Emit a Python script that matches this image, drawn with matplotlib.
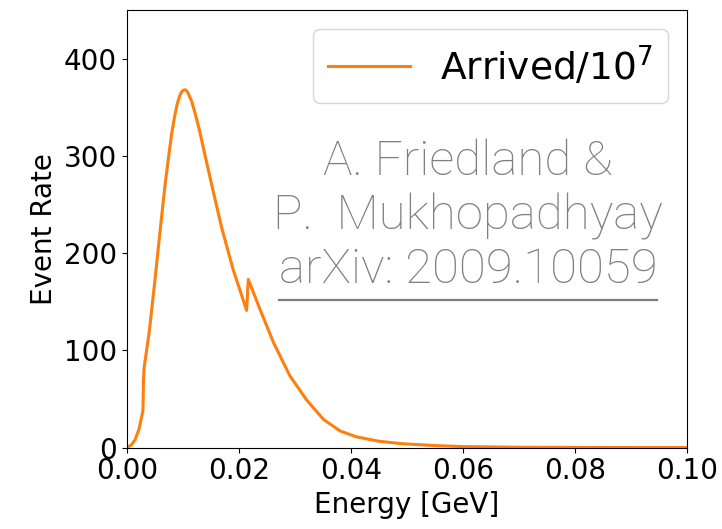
import numpy as np
import matplotlib
matplotlib.use("Agg")
import matplotlib.pyplot as plt
from matplotlib.lines import Line2D

ORANGE = "#ff7f0e"
GRAY = "#7f7f7f"

# energy [GeV] and event rate
energy = [0.0, 0.0008, 0.0015, 0.0022, 0.0029, 0.0030, 0.0031, 0.0040, 0.0050,
          0.0060, 0.0068, 0.0075, 0.0080, 0.0086, 0.0090, 0.0094, 0.0098,
          0.0101, 0.0104, 0.0107, 0.0110, 0.0116, 0.0122, 0.0130, 0.0140,
          0.0155, 0.0170, 0.0190, 0.0214, 0.0217, 0.0238, 0.0262, 0.0291,
          0.0321, 0.0351, 0.0381, 0.0410, 0.0450, 0.0490, 0.0550, 0.0600,
          0.0700, 0.0800, 0.0900, 0.1000]
rate = [0.0, 2.5, 8.0, 19.0, 38.0, 70.0, 82.0, 118.0, 170.0,
        225.0, 268.0, 300.0, 322.0, 342.0, 353.0, 361.0, 366.0,
        367.5, 368.0, 367.0, 364.0, 356.0, 344.0, 326.0, 300.0,
        262.0, 225.0, 183.0, 141.0, 173.0, 142.0, 108.0, 74.0,
        49.0, 29.0, 17.0, 11.0, 6.5, 4.0, 2.0, 1.0,
        0.3, 0.1, 0.0, 0.0]

credit = ["A. Friedland &", "P.  Mukhopadhyay", "arXiv: 2009.10059"]

fig = plt.figure(figsize=(7.22, 5.29), dpi=100)
ax = fig.add_axes([0.1755, 0.154, 0.776, 0.827])

ax.plot(energy, rate, color=ORANGE, lw=2.2, label=r"Arrived/$10^7$")
ax.set_xlim(0, 0.1)
ax.set_ylim(0, 450)
ax.set_xticks([0, 0.02, 0.04, 0.06, 0.08, 0.10])
ax.set_yticks([0, 100, 200, 300, 400])
ax.tick_params(labelsize=20)
ax.set_xlabel("Energy [GeV]", fontsize=20)
ax.set_ylabel("Event Rate", fontsize=20)
ax.legend(loc="upper right", fontsize=27, handlelength=2.2, handletextpad=0.8)

# credit text (gray, light sans)
kw = dict(ha="center", va="baseline", color=GRAY, fontsize=35.5,
          family=["Roboto", "Lato", "DejaVu Sans"], fontweight="light")
t1 = ax.text(0.0609, 280.6, credit[0], **kw)
t2 = ax.text(0.0609, 224.0, credit[1], **kw)
t3 = ax.text(0.0609, 169.2, credit[2], **kw)

# underline the arXiv line
fig.canvas.draw()
bb = t3.get_window_extent()
W, H = fig.bbox.width, fig.bbox.height
yline = ax.transData.transform((0, 152))[1]
fig.add_artist(Line2D([bb.x0 / W, bb.x1 / W], [yline / H, yline / H],
                      transform=fig.transFigure, color=GRAY, lw=1.6))

fig.savefig("out.png", dpi=100)
